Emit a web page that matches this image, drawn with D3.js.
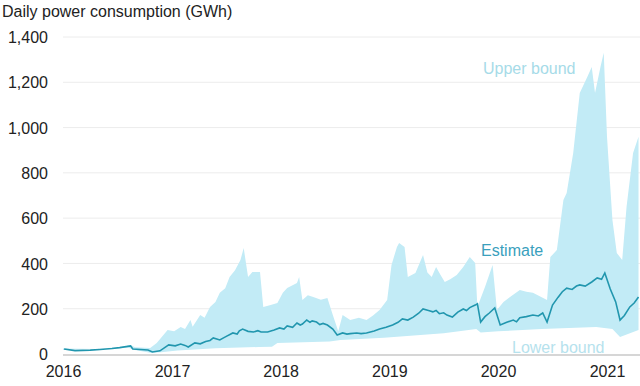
<!DOCTYPE html>
<html>
<head>
<meta charset="utf-8">
<script src="https://cdn.jsdelivr.net/npm/d3@7"></script>
<style>
  body { margin: 0; background: #fff; }
  svg text { font-family: "Liberation Sans", Arial, sans-serif; }
</style>
</head>
<body>
<div id="chart"></div>
<script>
// Daily power consumption: estimate with upper / lower bounds (GWh)

// dates as decimal years
const estimateYears = [2016.01, 2016.11, 2016.25, 2016.34, 2016.45, 2016.52, 2016.62, 2016.64, 2016.78, 2016.82, 2016.89, 2016.97,
  2017.03, 2017.08, 2017.12, 2017.15, 2017.21, 2017.26, 2017.31, 2017.35, 2017.38, 2017.44, 2017.47, 2017.50, 2017.56, 2017.60,
  2017.62, 2017.65, 2017.70, 2017.75, 2017.79, 2017.82, 2017.88, 2017.94, 2017.99, 2018.03, 2018.06, 2018.11, 2018.15, 2018.18,
  2018.20, 2018.24, 2018.27, 2018.29, 2018.33, 2018.36, 2018.39, 2018.43, 2018.48, 2018.52, 2018.57, 2018.61, 2018.64, 2018.70,
  2018.74, 2018.79, 2018.86, 2018.91, 2018.97, 2019.03, 2019.08, 2019.12, 2019.17, 2019.22, 2019.27, 2019.31, 2019.36, 2019.40,
  2019.43, 2019.46, 2019.50, 2019.53, 2019.58, 2019.63, 2019.68, 2019.71, 2019.74, 2019.79, 2019.81, 2019.84, 2019.88, 2019.92,
  2019.97, 2020.02, 2020.08, 2020.14, 2020.17, 2020.20, 2020.26, 2020.32, 2020.37, 2020.41, 2020.45, 2020.50, 2020.55, 2020.59,
  2020.63, 2020.68, 2020.72, 2020.75, 2020.80, 2020.86, 2020.91, 2020.95, 2020.98, 2021.03, 2021.08, 2021.12, 2021.16, 2021.21,
  2021.25, 2021.29];
const estimateValues = [22, 15, 17, 20, 24, 28, 36, 22, 18, 9, 14, 40,
  36, 44, 38, 31, 49, 45, 55, 60, 71, 62, 70, 78, 93, 88,
  102, 110, 100, 97, 103, 97, 97, 106, 115, 110, 124, 118, 137, 128,
  132, 150, 140, 146, 141, 130, 135, 128, 110, 84, 93, 88, 90, 93,
  90, 93, 102, 110, 118, 128, 140, 155, 150, 163, 180, 199, 192, 186,
  192, 178, 182, 172, 163, 185, 199, 192, 205, 216, 222, 141, 165, 181,
  203, 128, 140, 150, 142, 160, 165, 172, 168, 181, 141, 216, 250, 275,
  291, 285, 300, 305, 300, 318, 336, 330, 358, 287, 230, 150, 170, 208,
  225, 252];

const upperYears = [2016.00, 2016.30, 2016.55, 2016.62, 2016.66, 2016.80, 2016.86, 2016.96, 2017.02, 2017.08, 2017.12, 2017.17, 2017.19, 2017.26,
  2017.30, 2017.35, 2017.40, 2017.44, 2017.49, 2017.53, 2017.58, 2017.63, 2017.66, 2017.70, 2017.74, 2017.81, 2017.84, 2017.90, 2017.97,
  2018.02, 2018.06, 2018.15, 2018.17, 2018.20, 2018.25, 2018.30, 2018.37, 2018.43, 2018.48, 2018.53, 2018.57, 2018.64, 2018.72, 2018.79,
  2018.85, 2018.91, 2018.98, 2019.02, 2019.07, 2019.09, 2019.14, 2019.17, 2019.24, 2019.31, 2019.35, 2019.39, 2019.43, 2019.47, 2019.51,
  2019.56, 2019.62, 2019.68, 2019.74, 2019.79, 2019.81, 2019.88, 2019.95, 2019.99, 2020.05, 2020.11, 2020.20, 2020.26, 2020.32, 2020.45,
  2020.48, 2020.54, 2020.60, 2020.63, 2020.69, 2020.75, 2020.82, 2020.86, 2020.89, 2020.94, 2020.97, 2021.00, 2021.05, 2021.09, 2021.14,
  2021.18, 2021.24, 2021.29];
const upperValues = [24, 22, 32, 40, 30, 26, 49, 106, 100, 119, 110, 150, 120, 172,
  160, 208, 230, 270, 290, 340, 370, 415, 468, 340, 362, 362, 208, 215, 225,
  270, 291, 314, 340, 238, 260, 252, 240, 247, 172, 100, 172, 150, 160, 150,
  170, 194, 238, 393, 473, 490, 473, 340, 358, 437, 360, 340, 384, 350, 318,
  330, 349, 384, 428, 402, 208, 296, 393, 194, 230, 252, 283, 275, 270, 238,
  428, 459, 680, 711, 888, 1153, 1224, 1268, 1153, 1268, 1330, 959, 592, 446, 415,
  650, 888, 959];

const lowerYears = [2016.00, 2016.60, 2016.66, 2016.80, 2016.90, 2017.05, 2017.40, 2017.80, 2017.92, 2017.97, 2018.45, 2018.55,
  2018.95, 2019.50, 2019.80, 2019.84, 2020.00, 2020.40, 2020.90, 2021.05, 2021.12, 2021.29];
const lowerValues = [18, 28, 18, 5, 8, 15, 25, 31, 32, 49, 55, 62,
  72, 92, 110, 95, 100, 110, 119, 110, 75, 106];

const yTicks = [0, 200, 400, 600, 800, 1000, 1200, 1400];
const xTickYears = [2016, 2017, 2018, 2019, 2020, 2021];

const W = 640, H = 386;
const margin = {top: 37, right: 0, bottom: 32, left: 63};

function toDate(yr) {
  const y = Math.floor(yr);
  const start = new Date(y, 0, 1), end = new Date(y + 1, 0, 1);
  return new Date(+start + (yr - y) * (end - start));
}

const svg = d3.select("#chart").append("svg")
  .attr("width", W)
  .attr("height", H);

const x = d3.scaleTime()
  .domain([toDate(2016), toDate(2021)])
  .range([margin.left, 607]);

const y = d3.scaleLinear()
  .domain([0, 1400])
  .range([354, margin.top]);

// gridlines
svg.append("g")
  .selectAll("line")
  .data(yTicks.filter(d => d > 0))
  .enter()
  .append("line")
  .attr("x1", margin.left)
  .attr("x2", W)
  .attr("y1", d => y(d))
  .attr("y2", d => y(d))
  .attr("stroke", "#ececec")
  .attr("stroke-width", 1);

// y axis labels
const yAxis = svg.append("g")
  .attr("transform", `translate(${margin.left - 15},0)`)
  .call(d3.axisLeft(y).tickValues(yTicks).tickSize(0).tickPadding(0).tickFormat(d3.format(",")));
yAxis.select(".domain").remove();
yAxis.selectAll("text")
  .style("font-size", "16px")
  .attr("fill", "#222")
  .attr("dy", "0.35em");

// band (upper then lower reversed)
const upperPts = upperYears.map((d, i) => ({date: toDate(d), v: upperValues[i]}));
const lowerPts = lowerYears.map((d, i) => ({date: toDate(d), v: lowerValues[i]}));
const bandLine = d3.line()
  .x(d => x(d.date))
  .y(d => y(d.v));

svg.append("path")
  .attr("d", bandLine(upperPts.concat(lowerPts.slice().reverse())) + "Z")
  .attr("fill", "#c2ebf6")
  .attr("stroke", "none");

// baseline
svg.append("line")
  .attr("x1", margin.left)
  .attr("x2", W)
  .attr("y1", y(0) + 1)
  .attr("y2", y(0) + 1)
  .attr("stroke", "#d6d6d6")
  .attr("stroke-width", 2);

// estimate line
const estPts = estimateYears.map((d, i) => ({date: toDate(d), v: estimateValues[i]}));
svg.append("path")
  .datum(estPts)
  .attr("d", d3.line().x(d => x(d.date)).y(d => y(d.v)))
  .attr("fill", "none")
  .attr("stroke", "#2196ae")
  .attr("stroke-width", 1.6);

// x axis labels
const xAxis = svg.append("g")
  .attr("transform", `translate(0,${H - 20})`)
  .call(d3.axisBottom(x).tickValues(xTickYears.map(toDate)).tickSize(0).tickPadding(0).tickFormat(d3.timeFormat("%Y")));
xAxis.select(".domain").remove();
xAxis.selectAll("text")
  .style("font-size", "16px")
  .attr("fill", "#222")
  .attr("dy", "0.7em");

// title
svg.append("text")
  .attr("x", 2)
  .attr("y", 17)
  .style("font-size", "16px")
  .attr("fill", "#222")
  .text("Daily power consumption (GWh)");

// series labels
svg.append("text")
  .attr("x", 483)
  .attr("y", 74)
  .style("font-size", "16px")
  .attr("fill", "#a6dbe8")
  .text("Upper bound");

svg.append("text")
  .attr("x", 481)
  .attr("y", 256)
  .style("font-size", "16px")
  .attr("fill", "#3aa0bd")
  .text("Estimate");

svg.append("text")
  .attr("x", 512)
  .attr("y", 353)
  .style("font-size", "16px")
  .attr("fill", "#b6e2ed")
  .text("Lower bound");
</script>
</body>
</html>
